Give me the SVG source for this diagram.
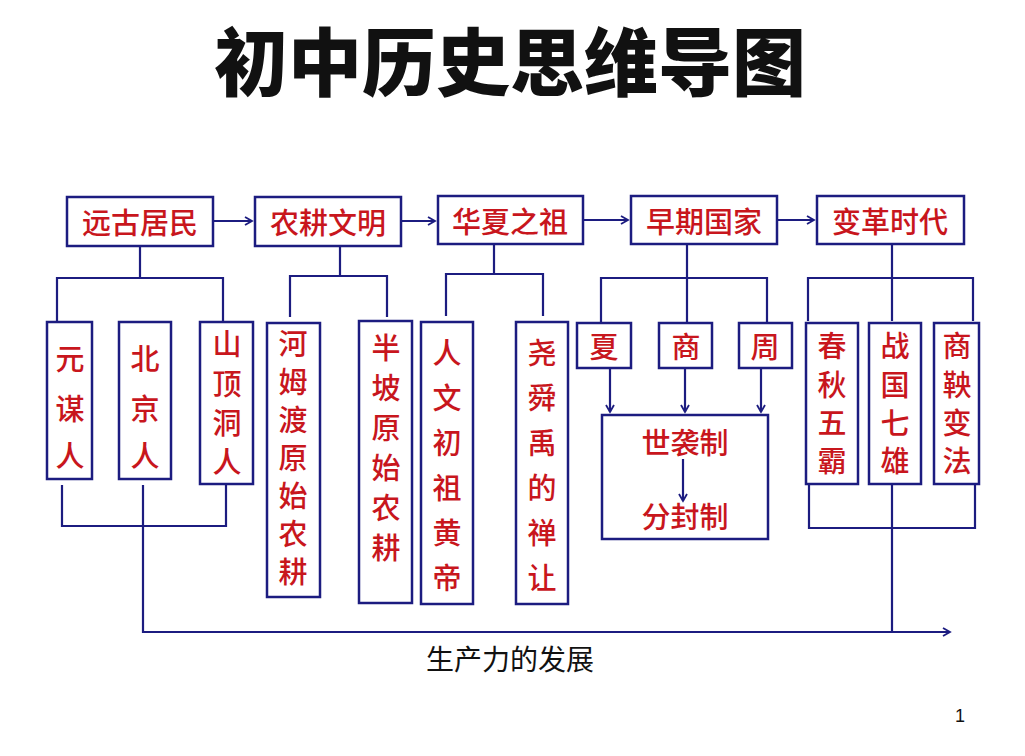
<svg xmlns="http://www.w3.org/2000/svg" width="1025" height="756" viewBox="0 0 1025 756">
<style>
.b{fill:#fff;stroke:#1c1c80;stroke-width:2.5}
.l{fill:none;stroke:#1c1c80;stroke-width:2.2}
.ar{fill:none;stroke:#1c1c80;stroke-width:2.2;marker-end:url(#a)}
.t{fill:#c8161d;font-family:"Noto Sans CJK SC","Noto Sans CJK JP",sans-serif;font-size:29px;font-weight:500;text-anchor:middle;dominant-baseline:central}
.v{fill:#c8161d;font-family:"Noto Sans CJK SC","Noto Sans CJK JP",sans-serif;font-size:29px;font-weight:500;text-anchor:middle}
</style>
<defs><marker id="a" markerWidth="10" markerHeight="10" refX="8" refY="5" orient="auto" markerUnits="userSpaceOnUse"><path d="M1,1 L8,5 L1,9" fill="none" stroke="#1c1c80" stroke-width="1.8"/></marker></defs>
<rect width="1025" height="756" fill="#fff"/>
<text x="510" y="90" font-family="'Noto Sans CJK SC',sans-serif" font-size="74" font-weight="900" text-anchor="middle" fill="#111">初中历史思维导图</text>
<g id="n1"><rect class="b" x="67" y="197" width="146" height="49"/><text class="t" x="140" y="221">远古居民</text></g>
<g id="n2"><rect class="b" x="255" y="197" width="146" height="49"/><text class="t" x="328" y="221">农耕文明</text></g>
<g id="n3"><rect class="b" x="438" y="196" width="145" height="48"/><text class="t" x="510" y="220">华夏之祖</text></g>
<g id="n4"><rect class="b" x="631" y="196" width="146" height="48"/><text class="t" x="704" y="220">早期国家</text></g>
<g id="n5"><rect class="b" x="817" y="196" width="147" height="48"/><text class="t" x="890" y="220">变革时代</text></g>
<g id="n6"><rect class="b" x="47" y="322" width="45" height="157"/><text class="v" x="70" y="370">元</text><text class="v" x="70" y="420">谋</text><text class="v" x="70" y="467">人</text></g>
<g id="n7"><rect class="b" x="119" y="322" width="52" height="157"/><text class="v" x="145" y="370">北</text><text class="v" x="145" y="420">京</text><text class="v" x="145" y="467">人</text></g>
<g id="n8"><rect class="b" x="200" y="322" width="53" height="162"/><text class="v" x="227" y="355">山</text><text class="v" x="227" y="395">顶</text><text class="v" x="227" y="434">洞</text><text class="v" x="227" y="473">人</text></g>
<g id="n9"><rect class="b" x="267" y="323" width="53" height="274"/><text class="v" x="293" y="355">河</text><text class="v" x="293" y="393">姆</text><text class="v" x="293" y="431">渡</text><text class="v" x="293" y="469">原</text><text class="v" x="293" y="507">始</text><text class="v" x="293" y="545">农</text><text class="v" x="293" y="583">耕</text></g>
<g id="n10"><rect class="b" x="359" y="321" width="53" height="282"/><text class="v" x="386" y="359">半</text><text class="v" x="386" y="399">坡</text><text class="v" x="386" y="439">原</text><text class="v" x="386" y="479">始</text><text class="v" x="386" y="519">农</text><text class="v" x="386" y="559">耕</text></g>
<g id="n11"><rect class="b" x="421" y="322" width="52" height="282"/><text class="v" x="447" y="364">人</text><text class="v" x="447" y="409">文</text><text class="v" x="447" y="454">初</text><text class="v" x="447" y="499">祖</text><text class="v" x="447" y="544">黄</text><text class="v" x="447" y="589">帝</text></g>
<g id="n12"><rect class="b" x="516" y="322" width="52" height="282"/><text class="v" x="542" y="364">尧</text><text class="v" x="542" y="409">舜</text><text class="v" x="542" y="454">禹</text><text class="v" x="542" y="499">的</text><text class="v" x="542" y="544">禅</text><text class="v" x="542" y="589">让</text></g>
<g id="n13"><rect class="b" x="577" y="323" width="54" height="45"/><text class="t" x="604" y="345">夏</text></g>
<g id="n14"><rect class="b" x="659" y="323" width="53" height="45"/><text class="t" x="686" y="345">商</text></g>
<g id="n15"><rect class="b" x="739" y="323" width="53" height="45"/><text class="t" x="765" y="345">周</text></g>
<g id="n16"><rect class="b" x="602" y="415" width="166" height="124"/><text class="t" x="685" y="441">世袭制</text><text class="t" x="685" y="515">分封制</text></g>
<g id="n17"><rect class="b" x="806" y="323" width="52" height="161"/><text class="v" x="832" y="357">春</text><text class="v" x="832" y="396">秋</text><text class="v" x="832" y="434">五</text><text class="v" x="832" y="472">霸</text></g>
<g id="n18"><rect class="b" x="869" y="323" width="52" height="161"/><text class="v" x="895" y="357">战</text><text class="v" x="895" y="396">国</text><text class="v" x="895" y="434">七</text><text class="v" x="895" y="472">雄</text></g>
<g id="n19"><rect class="b" x="934" y="323" width="45" height="161"/><text class="v" x="957" y="357">商</text><text class="v" x="957" y="396">鞅</text><text class="v" x="957" y="434">变</text><text class="v" x="957" y="472">法</text></g>
<g id="connectors">
<path class="ar" d="M213,221H252"/>
<path class="ar" d="M401,221H435"/>
<path class="ar" d="M583,220H628"/>
<path class="ar" d="M777,220H814"/>
<path class="l" d="M140,247V278M57,321V278H223V321"/>
<path class="l" d="M62,485V526H226V485M143,485V632H900"/>
<path class="l" d="M340,247V276M290,317V276H387V317"/>
<path class="l" d="M494,245V274M446,316V274H543V316"/>
<path class="l" d="M687,245V322M601,322V278H767V322"/>
<path class="l" d="M892,245V321M808,321V278H973V321"/>
<path class="l" d="M809,485V528H975V485M892,485V632"/>
<path class="ar" d="M610,369V412"/>
<path class="ar" d="M685,369V412"/>
<path class="ar" d="M761,369V412"/>
<path class="ar" d="M683,459V501"/>
<path class="ar" d="M899,632H950"/>
</g>
<text x="510" y="670" font-family="'Noto Sans CJK SC',sans-serif" font-size="28" text-anchor="middle" fill="#111">生产力的发展</text>
<text x="960" y="722" font-family="'Liberation Sans',sans-serif" font-size="18" text-anchor="middle" fill="#111">1</text>
</svg>
